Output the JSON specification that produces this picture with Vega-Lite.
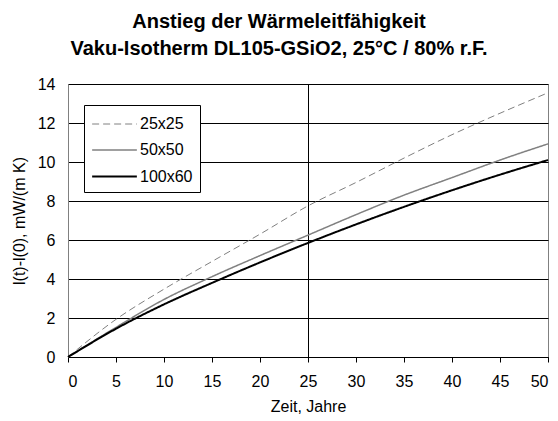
{
  "$schema": "https://vega.github.io/schema/vega-lite/v6.json",
  "width": 480,
  "height": 273,
  "autosize": "none",
  "padding": {"left": 68, "top": 84, "right": 10, "bottom": 64},
  "background": "white",
  "title": {
    "text": ["Anstieg der Wärmeleitfähigkeit", "Vaku-Isotherm DL105-GSiO2, 25°C / 80% r.F."],
    "font": "Liberation Sans",
    "fontSize": 20,
    "fontWeight": "bold",
    "color": "black",
    "anchor": "middle",
    "dx": -29,
    "offset": 17,
    "lineHeight": 27
  },
  "config": {
    "font": "Liberation Sans",
    "view": {"stroke": "#808080", "strokeWidth": 1},
    "axis": {
      "labelFont": "Liberation Sans",
      "titleFont": "Liberation Sans",
      "labelFontSize": 16,
      "titleFontSize": 16,
      "titleFontWeight": "normal",
      "labelColor": "black",
      "titleColor": "black"
    }
  },
  "data": {
    "values": [
      {"t": 0, "v": 0, "s": "25x25"},
      {"t": 5, "v": 1.93, "s": "25x25"},
      {"t": 10, "v": 3.48, "s": "25x25"},
      {"t": 15, "v": 4.9, "s": "25x25"},
      {"t": 20, "v": 6.3, "s": "25x25"},
      {"t": 25, "v": 7.75, "s": "25x25"},
      {"t": 30, "v": 8.95, "s": "25x25"},
      {"t": 35, "v": 10.2, "s": "25x25"},
      {"t": 40, "v": 11.4, "s": "25x25"},
      {"t": 45, "v": 12.5, "s": "25x25"},
      {"t": 50, "v": 13.55, "s": "25x25"},
      {"t": 0, "v": 0, "s": "50x50"},
      {"t": 5, "v": 1.52, "s": "50x50"},
      {"t": 10, "v": 2.95, "s": "50x50"},
      {"t": 15, "v": 4.12, "s": "50x50"},
      {"t": 20, "v": 5.2, "s": "50x50"},
      {"t": 25, "v": 6.25, "s": "50x50"},
      {"t": 30, "v": 7.3, "s": "50x50"},
      {"t": 35, "v": 8.3, "s": "50x50"},
      {"t": 40, "v": 9.2, "s": "50x50"},
      {"t": 45, "v": 10.1, "s": "50x50"},
      {"t": 50, "v": 10.93, "s": "50x50"},
      {"t": 0, "v": 0, "s": "100x60"},
      {"t": 5, "v": 1.45, "s": "100x60"},
      {"t": 10, "v": 2.7, "s": "100x60"},
      {"t": 15, "v": 3.8, "s": "100x60"},
      {"t": 20, "v": 4.85, "s": "100x60"},
      {"t": 25, "v": 5.85, "s": "100x60"},
      {"t": 30, "v": 6.8, "s": "100x60"},
      {"t": 35, "v": 7.7, "s": "100x60"},
      {"t": 40, "v": 8.55, "s": "100x60"},
      {"t": 45, "v": 9.35, "s": "100x60"},
      {"t": 50, "v": 10.1, "s": "100x60"}
    ]
  },
  "mark": {"type": "line", "interpolate": "monotone", "strokeCap": "butt"},
  "encoding": {
    "x": {
      "field": "t",
      "type": "quantitative",
      "title": "Zeit, Jahre",
      "scale": {"domain": [0, 50], "nice": false},
      "axis": {
        "values": [0, 5, 10, 15, 20, 25, 30, 35, 40, 45, 50],
        "grid": true,
        "gridColor": "black",
        "gridWidth": 1,
        "gridOpacity": {"condition": {"test": "datum.value === 25", "value": 1}, "value": 0},
        "domainColor": "black",
        "tickColor": "black",
        "tickSize": 5,
        "labelPadding": 11,
        "titlePadding": 9
      }
    },
    "y": {
      "field": "v",
      "type": "quantitative",
      "title": "l(t)-l(0), mW/(m K)",
      "scale": {"domain": [0, 14], "nice": false},
      "axis": {
        "values": [0, 2, 4, 6, 8, 10, 12, 14],
        "grid": true,
        "gridColor": "black",
        "gridOpacity": 1,
        "gridWidth": 1,
        "ticks": false,
        "domainColor": "#808080",
        "labelPadding": 13,
        "titlePadding": 10
      }
    },
    "color": {
      "field": "s",
      "type": "nominal",
      "title": null,
      "scale": {"domain": ["25x25", "50x50", "100x60"], "range": ["#808080", "#808080", "black"]},
      "legend": {
        "orient": "none",
        "legendX": 16,
        "legendY": 21,
        "strokeColor": "black",
        "fillColor": "white",
        "padding": 7,
        "symbolType": "M-2,0H2",
        "symbolSize": 500,
        "symbolOffset": 11,
        "labelFontSize": 16,
        "labelFont": "Liberation Sans",
        "labelColor": "black",
        "labelOffset": 13,
        "rowPadding": 6,
        "cornerRadius": 0
      }
    },
    "strokeDash": {
      "field": "s",
      "type": "nominal",
      "scale": {"domain": ["25x25", "50x50", "100x60"], "range": [[7, 4], [1, 0], [1, 0]]},
      "legend": null
    },
    "strokeWidth": {
      "field": "s",
      "type": "nominal",
      "scale": {"domain": ["25x25", "50x50", "100x60"], "range": [1, 2, 2]},
      "legend": null
    }
  }
}
